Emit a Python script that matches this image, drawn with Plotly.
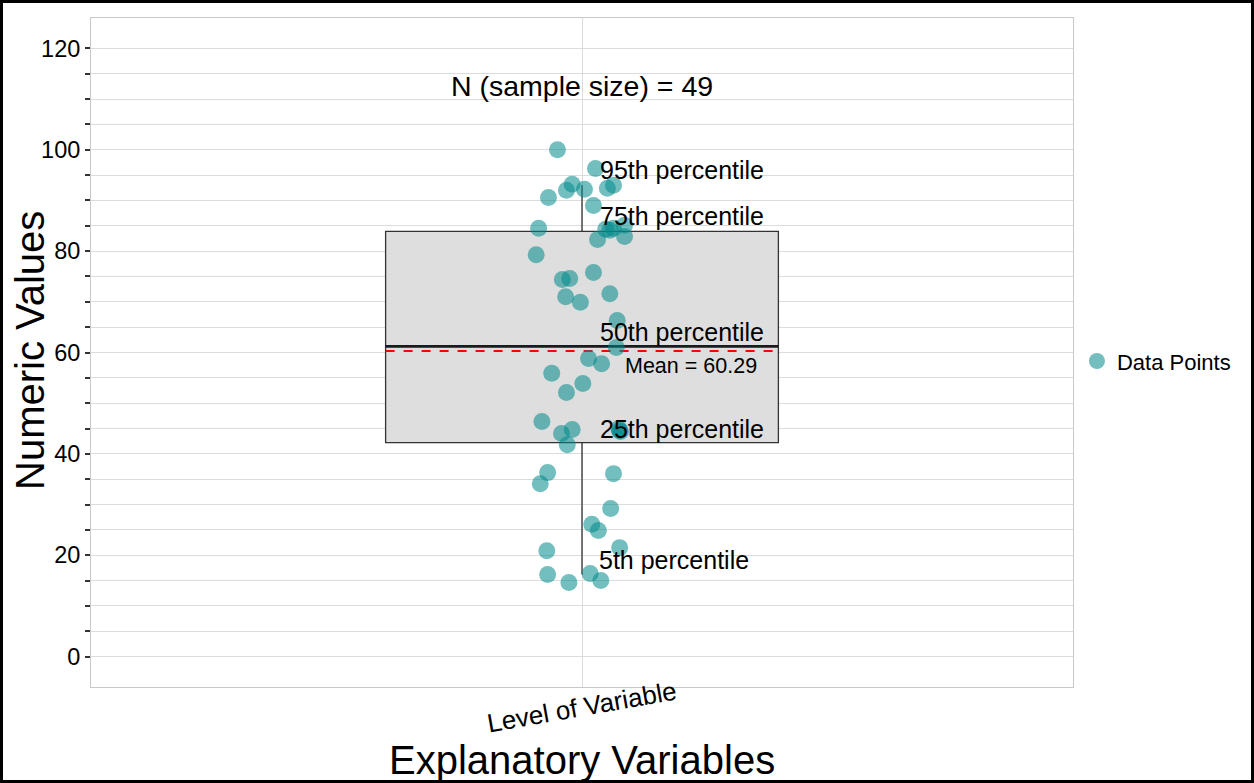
import plotly.graph_objects as go

# ---- data ----
category = "Level of Variable"
cat_pos = 1.0
point_x = [0.970, 1.0165, 0.988, 0.981, 1.003, 0.959, 1.014, 1.031, 1.0385,
           0.947, 1.029, 1.0385, 1.052, 1.019, 1.052, 1.034, 0.944, 0.976, 0.985,
           1.014, 0.980, 0.998, 1.034, 1.043, 1.042, 1.008, 1.024, 0.963, 1.001,
           0.981, 0.951, 0.975, 0.988, 0.982, 1.045, 1.047, 1.046, 0.958, 0.949,
           1.0385, 1.035, 1.012, 1.020, 1.046, 0.957, 0.958, 0.984, 1.010, 1.023]
point_y = [100.0, 96.3, 93.2, 92.0, 92.2, 90.6, 89.0, 92.4, 93.0,
           84.5, 84.3, 84.5, 85.1, 82.3, 82.9, 84.1, 79.3, 74.4, 74.6,
           75.8, 71.0, 69.9, 71.6, 66.3, 61.0, 58.8, 57.8, 55.9, 53.9,
           52.1, 46.4, 44.0, 44.8, 41.8, 45.0, 44.4, 44.6, 36.3, 34.1,
           36.1, 29.2, 26.1, 24.9, 21.5, 20.9, 16.2, 14.6, 16.4, 15.0]

q1 = [42.2]
median = [61.2]
q3 = [83.9]
p5 = [16.2]
p95 = [93.0]
mean_value = 60.29
n_size = 49
box_width = 0.48

label_texts = ["95th percentile", "75th percentile", "50th percentile", "25th percentile", "5th percentile"]
label_y = [96.1, 87.0, 64.1, 45.0, 19.1]
label_x = [1.02, 1.02, 1.02, 1.02, 1.018]

y_ticks = [0, 20, 40, 60, 80, 100, 120]
y_minor_ticks = [5, 10, 15, 25, 30, 35, 45, 50, 55, 65, 70, 75, 85, 90, 95, 105, 110, 115]

FONT = "Arial, Liberation Sans, sans-serif"

fig = go.Figure()

fig.add_trace(go.Box(
    x=[cat_pos], q1=q1, median=median, q3=q3, lowerfence=p5, upperfence=p95,
    width=box_width, whiskerwidth=0, fillcolor="#DEDEDE", line=dict(color="#333333", width=1.3),
    showlegend=False, hoverinfo="skip", boxpoints=False))

fig.add_trace(go.Scatter(
    x=[cat_pos - box_width / 2, cat_pos + box_width / 2], y=[median[0], median[0]],
    mode="lines", line=dict(color="#1a1a1a", width=2.6), showlegend=False, hoverinfo="skip"))

fig.add_trace(go.Scatter(
    x=[cat_pos - box_width / 2, cat_pos + box_width / 2], y=[mean_value, mean_value],
    mode="lines", line=dict(color="#FF0000", width=2, dash="dash"), showlegend=False, hoverinfo="skip"))

fig.add_trace(go.Scatter(
    x=point_x, y=point_y, mode="markers", name="Data Points",
    marker=dict(size=17, color="rgba(0,139,139,0.55)", line=dict(width=0))))

for t, xv, yv in zip(label_texts, label_x, label_y):
    fig.add_annotation(x=xv, y=yv, text=t, showarrow=False, xanchor="left", yanchor="middle",
                       font=dict(family=FONT, size=25, color="black"))

fig.add_annotation(x=1.0495, y=mean_value - 3.0, text=f"Mean = {mean_value:.2f}", showarrow=False,
                   xanchor="left", yanchor="middle", font=dict(family=FONT, size=21.5, color="black"))
fig.add_annotation(x=cat_pos, y=112.5, text=f"N (sample size) = {n_size}", showarrow=False,
                   xanchor="center", yanchor="middle", font=dict(family=FONT, size=28.5, color="black"))

L, R, T, B = 91, 181, 18, 96
W, H = 1254, 783
pw, ph = W - L - R, H - T - B

# category label (rotated) and axis titles
fig.add_annotation(x=cat_pos, xref="x", y=(687 - 707) / ph, yref="paper", text=category,
                   textangle=-10, showarrow=False, xanchor="center", yanchor="middle",
                   font=dict(family=FONT, size=26, color="black"))
fig.add_annotation(x=0.5, xref="paper", y=(687 - 760) / ph, yref="paper", text="Explanatory Variables",
                   showarrow=False, xanchor="center", yanchor="middle",
                   font=dict(family=FONT, size=40, color="black"))
fig.add_annotation(x=(30 - L) / pw, xref="paper", y=(687 - 351) / ph, yref="paper", text="Numeric Values",
                   textangle=-90, showarrow=False, xanchor="center", yanchor="middle",
                   font=dict(family=FONT, size=40, color="black"))

# outer black frame
fig.add_shape(type="rect", xref="paper", yref="paper",
              x0=(1.5 - L) / pw, x1=(W - 1.5 - L) / pw, y0=-(B - 1.5) / ph, y1=1 + (T - 1.5) / ph,
              line=dict(color="black", width=3), fillcolor="rgba(0,0,0,0)", layer="above")

fig.update_layout(
    width=W, height=H,
    margin=dict(l=L, r=R, t=T, b=B),
    paper_bgcolor="white", plot_bgcolor="white",
    font=dict(family=FONT, color="black"),
    legend=dict(x=1.004, y=0.487, xanchor="left", yanchor="middle",
                font=dict(family=FONT, size=22, color="black"), bgcolor="rgba(0,0,0,0)"),
)

fig.update_xaxes(
    range=[0.4, 1.6], tickvals=[cat_pos], ticktext=[""],
    showgrid=True, gridcolor="#DCDCDC", gridwidth=1, zeroline=False,
    showline=True, linecolor="#C8C8C8", linewidth=1, mirror=True, ticks="",
    automargin=False)

fig.update_yaxes(
    range=[-6, 126], tickvals=y_ticks, ticks="outside", ticklen=5, tickcolor="#333333", tickwidth=1.5,
    tickfont=dict(family=FONT, size=23.5, color="black"),
    showgrid=True, gridcolor="#DCDCDC", gridwidth=1, zeroline=False,
    showline=True, linecolor="#C8C8C8", linewidth=1, mirror=True,
    minor=dict(tickvals=y_minor_ticks, ticks="outside", ticklen=5, tickcolor="#333333", showgrid=True,
               gridcolor="#DCDCDC", gridwidth=1),
    automargin=False)

fig.write_html("out.html", config={"displayModeBar": False})

# remove the browser's default page margin so the figure sits at the window's corner
with open("out.html", "r", encoding="utf-8") as f:
    html = f.read()
html = html.replace("<body>", '<body style="margin:0;padding:0;overflow:hidden">', 1)
with open("out.html", "w", encoding="utf-8") as f:
    f.write(html)
